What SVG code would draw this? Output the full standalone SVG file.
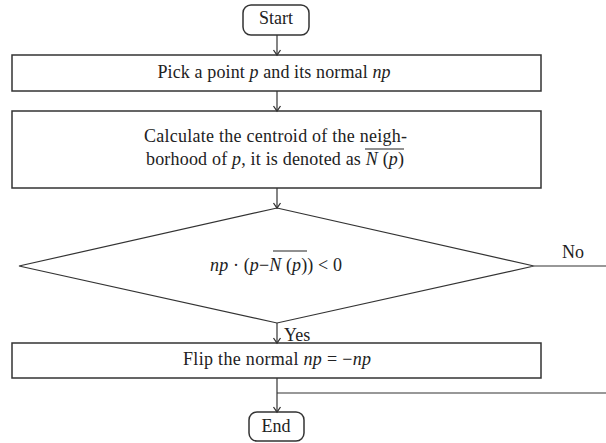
<svg xmlns="http://www.w3.org/2000/svg" width="606" height="443" viewBox="0 0 606 443">
<style>
.box{fill:#fff;stroke:#333;stroke-width:1.5}
.ln{fill:none;stroke:#333;stroke-width:1.2}
.t{font-family:"Liberation Serif","Times New Roman",serif;font-size:18px;fill:#222;text-anchor:middle}
.i{font-style:italic}
</style>
<defs>
<marker id="ah" markerWidth="12" markerHeight="12" refX="9" refY="6" orient="auto" markerUnits="userSpaceOnUse" viewBox="0 0 12 12">
<polyline points="4,2.5 9,6 4,9.5" fill="none" stroke="#333" stroke-width="1.3"/>
</marker>
</defs>
<rect width="606" height="443" fill="#fff"/>
<g id="start">
<rect class="box" x="243" y="5" width="66" height="30" rx="8"/>
<text class="t" x="276" y="24">Start</text>
</g>
<g id="pick">
<rect class="box" x="12" y="55" width="529" height="36"/>
<text class="t" x="274" y="78" textLength="233" lengthAdjust="spacing">Pick a point <tspan class="i">p</tspan> and its normal <tspan class="i">np</tspan></text>
</g>
<g id="centroid">
<rect class="box" x="12" y="111" width="529" height="77"/>
<text class="t" x="275.5" y="142" textLength="263" lengthAdjust="spacing">Calculate the centroid of the neigh-</text>
<text class="t" x="275" y="165" textLength="258" lengthAdjust="spacing">borhood of <tspan class="i">p</tspan>, it is denoted as <tspan class="i">N</tspan> (<tspan class="i">p</tspan>)</text>
<line x1="365" y1="149" x2="404" y2="149" stroke="#222" stroke-width="1.2"/>
</g>
<g id="decision">
<polygon class="box" points="277,208 534,266 277,323 19,266" style="stroke-width:1.2"/>
<text class="t" x="276" y="271" textLength="132" lengthAdjust="spacing"><tspan class="i">np</tspan> · (<tspan class="i">p</tspan>−<tspan class="i">N</tspan> (<tspan class="i">p</tspan>)) &lt; 0</text>
<line x1="273" y1="251" x2="307" y2="251" stroke="#222" stroke-width="1.2"/>
</g>
<g id="flip">
<rect class="box" x="12" y="343" width="529" height="35"/>
<text class="t" x="277" y="365" textLength="188" lengthAdjust="spacing">Flip the normal <tspan class="i">np</tspan> = −<tspan class="i">np</tspan></text>
</g>
<g id="end">
<rect class="box" x="249" y="412" width="55" height="29" rx="8"/>
<text class="t" x="276" y="432">End</text>
</g>
<g id="connectors">
<line class="ln" x1="277" y1="35" x2="277" y2="55" marker-end="url(#ah)"/>
<line class="ln" x1="277" y1="91" x2="277" y2="111" marker-end="url(#ah)"/>
<line class="ln" x1="277" y1="188" x2="277" y2="208" marker-end="url(#ah)"/>
<line class="ln" x1="277" y1="323" x2="277" y2="343" marker-end="url(#ah)"/>
<line class="ln" x1="277" y1="378" x2="277" y2="412" marker-end="url(#ah)"/>
<line class="ln" x1="534" y1="266" x2="606" y2="266"/>
<line class="ln" x1="277" y1="393" x2="606" y2="393"/>
<text class="t" x="573" y="258">No</text>
<text class="t" x="284" y="341" style="text-anchor:start">Yes</text>
</g>
</svg>
